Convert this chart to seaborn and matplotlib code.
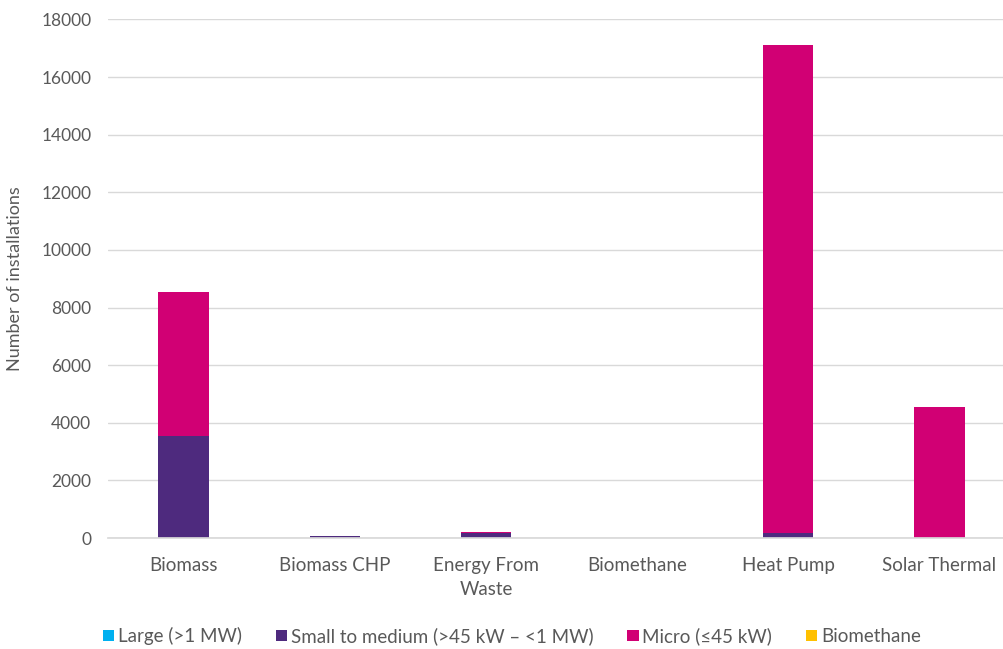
import numpy as np
import pandas as pd
import matplotlib
matplotlib.use("Agg")
import matplotlib.pyplot as plt
import seaborn as sns
from matplotlib.patches import Patch

categories = ["Biomass", "Biomass CHP", "Energy From\nWaste", "Biomethane", "Heat Pump", "Solar Thermal"]
large = [0, 0, 0, 0, 0, 0]
small_medium = [3540, 60, 170, 0, 180, 0]
micro = [4990, 0, 25, 0, 16950, 4560]
biomethane = [0, 0, 0, 0, 0, 0]

series_names = ["Large (>1 MW)", "Small to medium (>45 kW \u2013 <1 MW)", "Micro (\u226445 kW)", "Biomethane"]
colors = ["#00B0F0", "#4E2A7E", "#D10074", "#FFC000"]

sns.set_theme(style="white")
plt.rcParams["font.family"] = ["Lato", "DejaVu Sans"]

fig = plt.figure(figsize=(10.04, 6.49), dpi=100)
ax = fig.add_axes([0.1076, 0.171, 0.9034, 0.799])

vals = np.array([large, small_medium, micro, biomethane], dtype=float)
cum = np.cumsum(vals, axis=0)

for i in range(3, -1, -1):
    df = pd.DataFrame({"cat": categories, "val": cum[i]})
    sns.barplot(data=df, x="cat", y="val", color=colors[i], width=0.333,
                ax=ax, saturation=1, edgecolor="none", linewidth=0)

ax.set_ylim(0, 18000)
ax.set_yticks(np.arange(0, 18001, 2000))
ax.set_xlim(-0.5, 5.5)
ax.grid(axis="y", color="#D9D9D9", linewidth=1)
ax.set_axisbelow(True)
for s in ["top", "right", "left"]:
    ax.spines[s].set_visible(False)
ax.spines["bottom"].set_color("#D9D9D9")
ax.tick_params(axis="x", colors="#595959", labelsize=13.5, length=0, pad=14)
ax.tick_params(axis="y", colors="#595959", labelsize=12.5, length=0, pad=12)
for lbl in ax.get_xticklabels():
    lbl.set_linespacing(1.45)
ax.set_xlabel("")
ax.set_ylabel("Number of installations", color="#595959", fontsize=13, labelpad=13)

handles = [Patch(facecolor=c, edgecolor="none") for c in colors]
fig.legend(handles, series_names, loc="lower center", ncol=4, frameon=False,
           bbox_to_anchor=(0.51, -0.02), fontsize=13.5, handlelength=0.6, handleheight=0.6,
           handletextpad=0.2, columnspacing=1.8, labelcolor="#595959")

fig.savefig("out.png", dpi=100)
